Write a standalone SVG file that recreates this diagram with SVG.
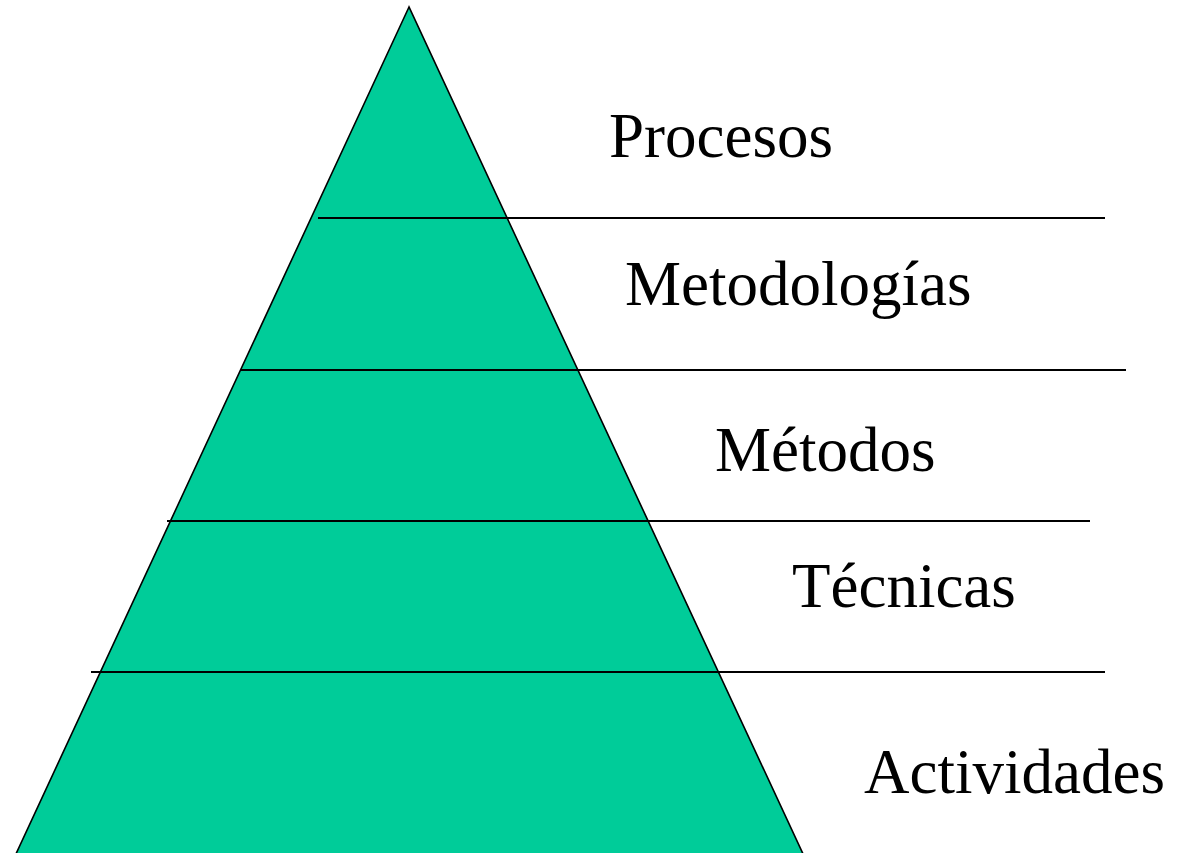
<svg xmlns="http://www.w3.org/2000/svg" width="1182" height="853" viewBox="0 0 1182 853">
<style>
.tri{fill:#00cc99;stroke:#000;stroke-width:1.6}
.ln{stroke:#000;stroke-width:1.8;fill:none}
text{font-family:"Liberation Serif","Times New Roman",serif;font-size:63px;fill:#000}
</style>
<rect width="1182" height="853" fill="#fff"/>
<g id="pyramid"><polygon class="tri" points="409,7 15,856 804,856"/></g>
<g id="lines">
<line class="ln" x1="318" y1="218" x2="1105" y2="218"/>
<line class="ln" x1="241" y1="370" x2="1126" y2="370"/>
<line class="ln" x1="167" y1="521" x2="1090" y2="521"/>
<line class="ln" x1="91" y1="672" x2="1105" y2="672"/>
</g>
<g id="procesos"><text x="609" y="157">Procesos</text></g>
<g id="metodologias"><text x="625" y="305">Metodologías</text></g>
<g id="metodos"><text x="715" y="471">Métodos</text></g>
<g id="tecnicas"><text x="792" y="607">Técnicas</text></g>
<g id="actividades"><text x="864" y="793">Actividades</text></g>
</svg>
